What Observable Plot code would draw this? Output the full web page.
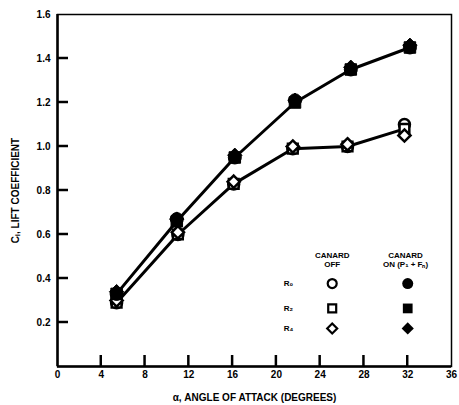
<!DOCTYPE html>
<html>
<head>
<meta charset="utf-8">
<script src="https://cdn.jsdelivr.net/npm/d3@7"></script>
<script src="https://cdn.jsdelivr.net/npm/@observablehq/plot@0.6"></script>
<style>
  body { margin: 0; background: #fff; }
  #chart svg { font-family: "Liberation Sans", Arial, sans-serif; font-weight: bold; }
</style>
</head>
<body>
<div id="chart"></div>
<script>
// Angle of attack (degrees) for each test point
const alphaOff = [5.4, 11.0, 16.1, 21.5, 26.5, 31.7];
const alphaOn  = [5.4, 10.9, 16.2, 21.7, 26.8, 32.2];

// Lift coefficient, canard off (open symbols)
const offR0 = [0.29, 0.60, 0.83, 0.99, 1.00, 1.10];
const offR2 = [0.29, 0.60, 0.83, 0.99, 1.00, 1.08];
const offR4 = [0.30, 0.61, 0.84, 1.00, 1.01, 1.05];

// Lift coefficient, canard on (filled symbols)
const onR0 = [0.33, 0.67, 0.95, 1.21, 1.35, 1.45];
const onR2 = [0.33, 0.66, 0.95, 1.20, 1.35, 1.45];
const onR4 = [0.34, 0.67, 0.96, 1.21, 1.36, 1.46];

// Configurations and their symbols
const configs = ["R\u2080", "R\u2082", "R\u2084"];
const symbols = ["circle", "square", "diamond2"];

const xTicks = [0, 4, 8, 12, 16, 20, 24, 28, 32, 36];
const yTicks = [0.2, 0.4, 0.6, 0.8, 1.0, 1.2, 1.4, 1.6];
const xInnerTicks = [4, 8, 12, 16, 20, 24, 28, 32];
const yInnerTicks = [0.2, 0.4, 0.6, 0.8, 1.0, 1.2, 1.4];

const rows = (xs, ys, cfg, sym, canard) =>
  xs.map((x, i) => ({alpha: x, cl: ys[i], config: cfg, symbol: sym, canard}));

const offData = [
  ...rows(alphaOff, offR0, configs[0], symbols[0], "off"),
  ...rows(alphaOff, offR2, configs[1], symbols[1], "off"),
  ...rows(alphaOff, offR4, configs[2], symbols[2], "off")
];
const onData = [
  ...rows(alphaOn, onR0, configs[0], symbols[0], "on"),
  ...rows(alphaOn, onR2, configs[1], symbols[1], "on"),
  ...rows(alphaOn, onR4, configs[2], symbols[2], "on")
];
const offLine = rows(alphaOff, offR2, configs[1], symbols[1], "off");
const onLine = rows(alphaOn, onR2, configs[1], symbols[1], "on");

// Legend block, placed in the lower right of the frame
const legendRowsY = [0.377, 0.264, 0.173];
const legendRows = configs.map((c, i) => ({config: c, symbol: symbols[i], y: legendRowsY[i]}));

// Length of the inward-pointing tick marks, in pixels
const tickLen = 11;

const chart = Plot.plot({
  width: 459,
  height: 405,
  marginLeft: 57,
  marginRight: 8,
  marginTop: 14,
  marginBottom: 39,
  style: {fontSize: "10px", fontWeight: "bold", background: "#fff"},
  x: {domain: [0, 36]},
  y: {domain: [0, 1.6]},
  symbol: {domain: symbols, range: symbols},
  marks: [
    Plot.frame({strokeWidth: 1.5}),
    Plot.ruleX([0], {strokeWidth: 2.5}),
    Plot.ruleY([0], {strokeWidth: 2.5}),
    // tick labels and axis titles
    Plot.axisX(xTicks, {
      tickSize: 0, tickPadding: 4,
      tickFormat: d => String(d),
      label: "\u03B1, ANGLE OF ATTACK (DEGREES)", labelAnchor: "center", labelArrow: "none", labelOffset: 34
    }),
    Plot.axisY(yTicks, {
      tickSize: 0, tickPadding: 7,
      tickFormat: d => d.toFixed(1),
      label: "C\u2097, LIFT COEFFICIENT", labelAnchor: "center", labelArrow: "none", labelOffset: 46
    }),
    // curves
    Plot.line(offLine, {x: "alpha", y: "cl", strokeWidth: 3}),
    Plot.line(onLine, {x: "alpha", y: "cl", strokeWidth: 3}),
    // canard off: open symbols
    Plot.dot(offData, {x: "alpha", y: "cl", symbol: "symbol", r: 5.5, stroke: "#000", fill: "#fff", strokeWidth: 2.5}),
    // canard on: filled symbols
    Plot.dot(onData, {x: "alpha", y: "cl", symbol: "symbol", r: 6.5, fill: "#000", stroke: "#000", strokeWidth: 1}),
    // legend
    Plot.text(["CANARD", "OFF"], {x: 25.1, y: [0.505, 0.464], text: d => d, fontSize: 8}),
    Plot.text(["CANARD", "ON (P\u2081 + F\u2099)"], {x: 31.8, y: [0.505, 0.464], text: d => d, fontSize: 8}),
    Plot.text(legendRows, {x: 21.1, y: "y", text: "config", fontSize: 8}),
    Plot.dot(legendRows, {x: 25.1, y: "y", symbol: "symbol", r: 4.5, stroke: "#000", fill: "#fff", strokeWidth: 2.2}),
    Plot.dot(legendRows, {x: 32.0, y: "y", symbol: "symbol", r: 5.5, fill: "#000"})
  ]
});

// Inward tick marks, placed with the chart's own x and y scales
const sx = chart.scale("x");
const sy = chart.scale("y");
const ticks = d3.select(chart).append("g")
  .attr("stroke", "#000")
  .attr("stroke-width", 2.5);
ticks.selectAll("line.xt").data(xInnerTicks).join("line")
  .attr("class", "xt")
  .attr("x1", d => sx.apply(d)).attr("x2", d => sx.apply(d))
  .attr("y1", sy.apply(0)).attr("y2", sy.apply(0) - tickLen);
ticks.selectAll("line.yt").data(yInnerTicks).join("line")
  .attr("class", "yt")
  .attr("y1", d => sy.apply(d)).attr("y2", d => sy.apply(d))
  .attr("x1", sx.apply(0)).attr("x2", sx.apply(0) + tickLen);

document.getElementById("chart").appendChild(chart);
</script>
</body>
</html>
